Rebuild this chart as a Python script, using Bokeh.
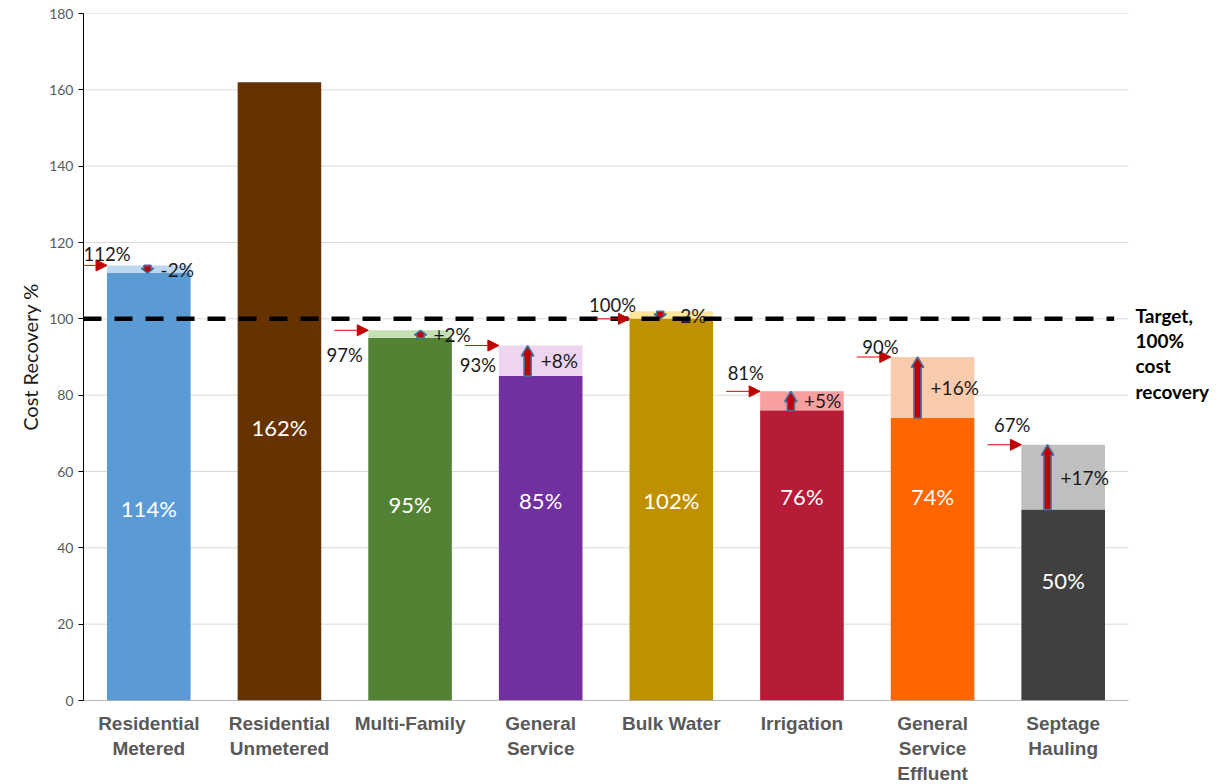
from bokeh.plotting import figure
from bokeh.models import ColumnDataSource, Range1d, Arrow, NormalHead, Label, FixedTicker
from bokeh.core.properties import value
from bokeh.embed import file_html
from bokeh.resources import INLINE

# ---------------- data ----------------
categories = ["Residential\nMetered", "Residential\nUnmetered", "Multi-Family",
              "General\nService", "Bulk Water", "Irrigation",
              "General\nService\nEffluent", "Septage\nHauling"]
current = [114, 162, 95, 85, 102, 76, 74, 50]
proposed = [112, None, 97, 93, 100, 81, 90, 67]
change_text = ["-2%", None, "+2%", "+8%", "-2%", "+5%", "+16%", "+17%"]
target = 100
y_ticks = [0, 20, 40, 60, 80, 100, 120, 140, 160, 180]

# ---------------- styling / layout ----------------
dark_colors = ["#5B9BD5", "#663300", "#548235", "#7030A0", "#BF9000", "#B61C37", "#FF6600", "#404040"]
light_colors = ["#BDD7EE", "#663300", "#C5E0B4", "#EDD5F0", "#FFE699", "#F8A0A0", "#F8CBAD", "#BFBFBF"]
inbar_label_y = [50.3, 71.5, 51.3, 52.4, 52.4, 53.4, 53.4, 31.4]
arrow_level = [114, None, 97, 93, 100, 81, 90, 67]
prop_label_dx = [-0.32, None, -0.50, -0.48, -0.45, -0.43, -0.40, -0.39]
prop_label_y = [117, None, 90.6, 88, 103.7, 85.7, 92.7, 72.3]
chg_arrow_dx = [-0.01, None, 0.08, -0.10, -0.085, -0.085, -0.115, -0.12]
BAR_W = 0.64
NUM_FONT = "Lato"
X_LO, X_HI = -0.5, 7.5
CAT_W_PX = 1045
FRAME_W = 1127
X_END = X_LO + (X_HI - X_LO) * FRAME_W / CAT_W_PX

p = figure(frame_width=FRAME_W, frame_height=687, x_range=Range1d(X_LO, X_END), y_range=Range1d(0, 180),
           output_backend="svg", toolbar_location=None,
           min_border_left=83, min_border_right=2, min_border_top=13, min_border_bottom=70)
p.outline_line_color = None
p.background_fill_color = "white"
p.xgrid.grid_line_color = None
p.ygrid.grid_line_color = None

# grid lines (limited to the category area)
p.segment(x0=[X_LO] * len(y_ticks), x1=[X_HI] * len(y_ticks), y0=y_ticks, y1=y_ticks,
          line_color="#D9D9D9", line_width=1)

xs = list(range(len(categories)))
low = [min(c, pr) if pr is not None else c for c, pr in zip(current, proposed)]
high = [max(c, pr) if pr is not None else c for c, pr in zip(current, proposed)]

src = ColumnDataSource(dict(x=xs, low=low, high=high, dark=dark_colors, light=light_colors,
                            lab=[f"{c}%" for c in current], laby=inbar_label_y))
p.vbar(x="x", top="high", bottom="low", width=BAR_W, fill_color="light", line_color=None, source=src)
p.vbar(x="x", top="low", bottom=0, width=BAR_W, fill_color="dark", line_color=None, source=src)
p.text(x="x", y="laby", text="lab", source=src, text_color="white", text_align="center",
       text_baseline="middle", text_font=value(NUM_FONT), text_font_size="22px")

# x axis baseline
p.segment(x0=[X_LO], x1=[X_HI], y0=[0], y1=[0], line_color="#868686", line_width=1.2)

# proposed-level red arrows and labels
for i, (pr, lvl) in enumerate(zip(proposed, arrow_level)):
    if pr is None:
        continue
    xe = i - BAR_W / 2
    xsx = max(X_LO, xe - 0.26)
    p.add_layout(Arrow(x_start=xsx, y_start=lvl, x_end=xe, y_end=lvl, line_color="#E00000",
                       line_width=1,
                       end=NormalHead(size=11, fill_color="#C00000", line_color="#C00000")))
    p.add_layout(Label(x=i + prop_label_dx[i], y=prop_label_y[i], text=f"{pr}%",
                       text_align="center", text_baseline="middle", text_font=NUM_FONT,
                       text_font_size="18.5px", text_color="#1a1a1a"))

# change block arrows
axs, ays = [], []
cx, cy, ct = [], [], []
for i, (c, pr) in enumerate(zip(current, proposed)):
    if pr is None:
        continue
    xc = i + chg_arrow_dx[i]
    d = 1 if pr > c else -1
    L = abs(pr - c)
    hl = min(2.7, 0.62 * L)
    sw, hw = 0.027, 0.047
    yb = pr - d * hl
    axs.append([xc - sw, xc - sw, xc - hw, xc, xc + hw, xc + sw, xc + sw])
    ays.append([c, yb, yb, pr, yb, yb, c])
    cx.append(xc + 0.10)
    cy.append((c + pr) / 2)
    ct.append(change_text[i])
p.patches(axs, ays, fill_color="#C00000", line_color="#41719C", line_width=1.6)
p.text(x=cx, y=cy, text=ct, text_align="left", text_baseline="middle",
       text_font=value(NUM_FONT), text_font_size="19px", text_color="#1a1a1a")

# target line
p.segment(x0=[X_LO], x1=[X_HI - 0.11], y0=[target], y1=[target], line_color="black",
          line_width=4.5, line_dash="18 13")

# target text
p.add_layout(Label(x=X_HI, y=target, x_offset=7, y_offset=15, text="Target,\n100%\ncost\nrecovery",
                   text_align="left", text_baseline="top", text_font=NUM_FONT,
                   text_font_size="19px", text_font_style="bold", text_color="black",
                   text_line_height=1.1))

# axes
p.yaxis.ticker = FixedTicker(ticks=y_ticks)
p.yaxis.axis_line_color = "black"
p.yaxis.major_tick_out = 5
p.yaxis.major_tick_in = 0
p.yaxis.minor_tick_line_color = None
p.yaxis.major_tick_line_color = "black"
p.yaxis.major_label_text_color = "#595959"
p.yaxis.major_label_text_font = NUM_FONT
p.yaxis.major_label_text_font_size = "14px"
p.yaxis.axis_label = "Cost Recovery %"
p.yaxis.axis_label_text_font = NUM_FONT
p.yaxis.axis_label_text_font_size = "20px"
p.yaxis.axis_label_text_font_style = "normal"
p.yaxis.axis_label_text_color = "#1a1a1a"
p.yaxis.axis_label_standoff = 4

p.xaxis.ticker = FixedTicker(ticks=xs)
p.xaxis.major_label_overrides = {i: n for i, n in enumerate(categories)}
p.xaxis.axis_line_color = None
p.xaxis.major_tick_line_color = None
p.xaxis.minor_tick_line_color = None
p.xaxis.major_label_text_font = "Liberation Sans"
p.xaxis.major_label_text_font_style = "bold"
p.xaxis.major_label_text_font_size = "19px"
p.xaxis.major_label_text_color = "#595959"
p.xaxis.major_label_standoff = 6

open("out.html", "w").write(file_html(p, INLINE))
